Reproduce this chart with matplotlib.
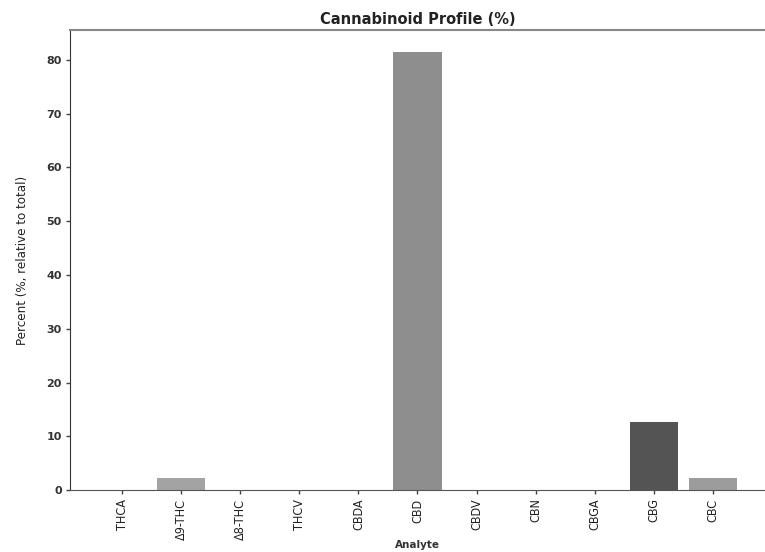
import matplotlib
matplotlib.use('Agg')
import matplotlib.pyplot as plt

# analytes and percent values
analytes = ['THCA', 'Δ9-THC', 'Δ8-THC', 'THCV', 'CBDA', 'CBD', 'CBDV', 'CBN', 'CBGA', 'CBG', 'CBC']
percent = [0.0, 2.3, 0.0, 0.0, 0.0, 81.5, 0.0, 0.0, 0.0, 12.6, 2.2]
bar_colors = ['#9a9a9a', '#a3a3a3', '#9a9a9a', '#9a9a9a', '#9a9a9a', '#8e8e8e',
              '#9a9a9a', '#9a9a9a', '#9a9a9a', '#545454', '#9c9c9c']

fig = plt.figure(figsize=(7.65, 5.52), dpi=100)
ax = fig.add_axes([0.0915, 0.112, 0.9085, 0.834])

x = list(range(len(analytes)))
ax.bar(x, percent, width=0.82, color=bar_colors)

ax.set_xlim(-0.88, 10.88)
ax.set_ylim(0, 85.6)
ax.set_yticks([0, 10, 20, 30, 40, 50, 60, 70, 80])
ax.set_xticks(x)
ax.set_xticklabels(analytes, rotation=90, fontsize=9, fontstretch='condensed', color='#222222')
for lab in ax.get_yticklabels():
    lab.set_fontweight('bold')
    lab.set_fontsize(8)
    lab.set_color('#333333')
ax.tick_params(axis='both', length=3, width=1, color='#444444', pad=3)

ax.spines['top'].set_color('#888888')
ax.spines['top'].set_linewidth(1.5)
ax.spines['right'].set_visible(False)
ax.spines['left'].set_color('#333333')
ax.spines['bottom'].set_color('#555555')

ax.set_title('Cannabinoid Profile (%)', fontsize=10.5, fontweight='bold', color='#222222', pad=4)
ax.set_xlabel('Analyte', fontsize=7.5, fontweight='bold', color='#333333', labelpad=0)
ax.set_ylabel('Percent (%, relative to total)', fontsize=9.5, fontstretch='condensed', color='#222222', labelpad=12)

fig.savefig('out.png', dpi=100)
